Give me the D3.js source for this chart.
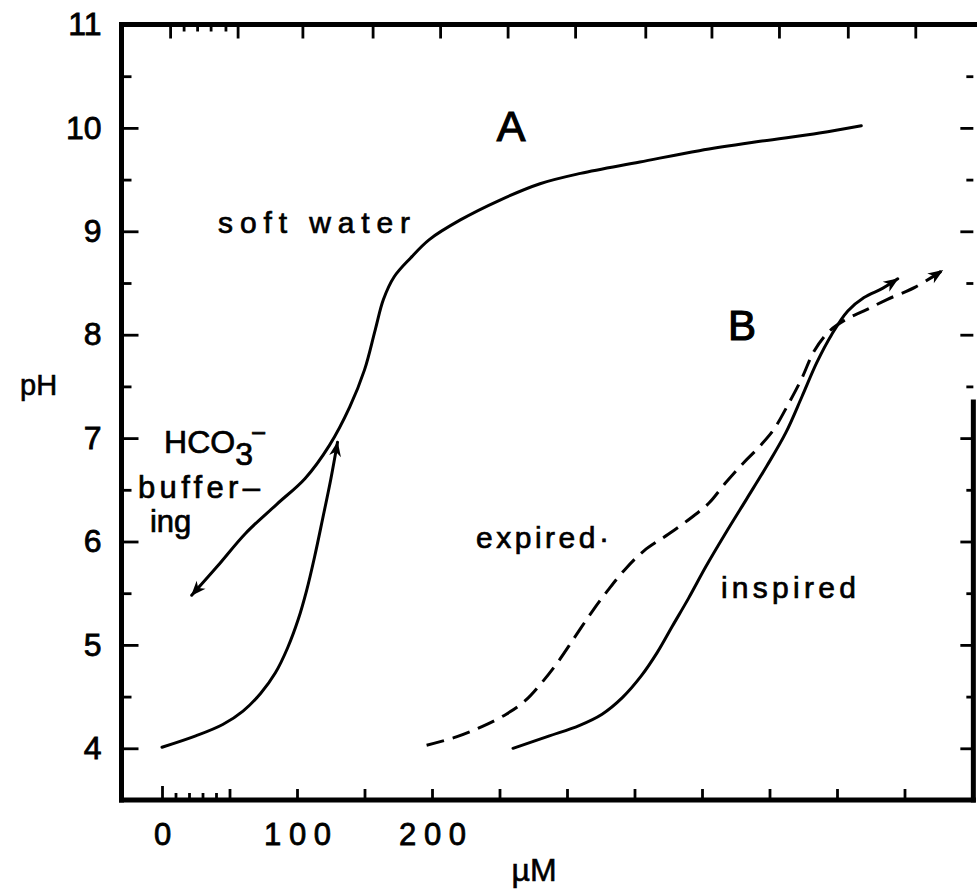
<!DOCTYPE html>
<html><head><meta charset="utf-8">
<script src="https://cdn.jsdelivr.net/npm/d3@7"></script>
<style>body{margin:0;background:#fff}</style>
</head><body>
<svg id="chart" width="977" height="894"></svg>
<script>
// ---- data (x in µM, y in pH) ----
const softWaterRise = [[0,4.01],[25,4.12],[45,4.23],[60,4.36],[73,4.53],[84,4.73],[93,4.97],[101,5.25],[107,5.52],[113,5.85],[119,6.22],[125,6.6],[130,6.96]];
const softWaterMain = [[22,5.48],[41,5.76],[62,6.08],[85,6.36],[106,6.61],[124,6.93],[139,7.30],[150,7.66],[158,8.05],[164,8.34],[172,8.56],[184,8.74],[198,8.92],[221,9.11],[250,9.30],[280,9.46],[310,9.56],[354,9.67],[398,9.78],[443,9.87],[487,9.95],[518,10.02]];
const inspired = [[260,4.0],[287,4.12],[309,4.22],[326,4.33],[341,4.49],[355,4.70],[367,4.93],[378,5.18],[390,5.45],[403,5.76],[417,6.07],[433,6.41],[448,6.73],[462,7.05],[474,7.40],[485,7.73],[496,8.00],[508,8.23],[520,8.36],[534,8.45],[545,8.54]];
const expired = [[196,4.03],[218,4.11],[237,4.21],[255,4.33],[269,4.46],[281,4.63],[293,4.83],[306,5.08],[319,5.33],[331,5.54],[343,5.73],[357,5.91],[375,6.07],[392,6.23],[405,6.37],[417,6.56],[430,6.75],[442,6.91],[453,7.08],[464,7.33],[474,7.58],[483,7.84],[494,8.03],[507,8.15],[520,8.23],[537,8.34],[558,8.46],[578,8.62]];

const yTickValues = [4,5,6,7,8,9,10,11];
const yMinorValues = [4.5,5.5,6.5,7.5,8.5,9.5,10.5];
const xLabelValues = [0,100,200];
const xMajorTicks = [0,50,100,150,200,250,300,350,400,450,500,550];
const xMinorTicks = [10,20,30,40];
const topMajorTicks = [6,56,104,156,206,256,306,358,407,457,508,558];
const topMinorTicks = [16,26,36,47];

// ---- setup ----
const FONT = "'Liberation Sans', Arial, Helvetica, sans-serif";
const svg = d3.select("#chart").attr("font-family", FONT);
const x = d3.scaleLinear().domain([-30, 601]).range([121.5, 973.35]);
const y = d3.scaleLinear().domain([3.5, 11]).range([800, 24.5]);

function styleAxis(g){
  g.select(".domain").remove();
  g.selectAll(".tick line").attr("stroke","#000").attr("stroke-width",2.8);
  g.attr("font-family", FONT);
}
function heavy(sel, w){ sel.attr("stroke","#000").attr("stroke-width",w).attr("fill","#000"); }

// left ticks (inward)
svg.append("g").attr("transform",`translate(${x(-30)},0)`)
  .call(d3.axisRight(y).tickValues(yTickValues).tickSize(17).tickFormat("")).call(styleAxis);
svg.append("g").attr("transform",`translate(${x(-30)},0)`)
  .call(d3.axisRight(y).tickValues(yMinorValues).tickSize(10).tickFormat("")).call(styleAxis);
// left labels
const yl = svg.append("g").attr("transform",`translate(${x(-30)},0)`)
  .call(d3.axisLeft(y).tickValues(yTickValues).tickSize(0).tickPadding(20).tickFormat(d3.format("d")))
  .call(styleAxis);
yl.attr("font-size",32);
yl.selectAll("text").call(heavy, 0.8);

// right ticks (inward)
svg.append("g").attr("transform",`translate(${x(601)},0)`)
  .call(d3.axisLeft(y).tickValues(yTickValues.filter(d=>d<11)).tickSize(13).tickFormat("")).call(styleAxis);
svg.append("g").attr("transform",`translate(${x(601)},0)`)
  .call(d3.axisLeft(y).tickValues(yMinorValues).tickSize(7).tickFormat("")).call(styleAxis);

// top ticks (inward)
svg.append("g").attr("transform",`translate(0,${y(11)})`)
  .call(d3.axisBottom(x).tickValues(topMajorTicks).tickSize(14).tickFormat("")).call(styleAxis);
svg.append("g").attr("transform",`translate(0,${y(11)})`)
  .call(d3.axisBottom(x).tickValues(topMinorTicks).tickSize(7).tickFormat("")).call(styleAxis);

// bottom ticks (inward)
svg.append("g").attr("transform",`translate(0,${y(3.5)})`)
  .call(d3.axisTop(x).tickValues(xMajorTicks).tickSize(11).tickFormat("")).call(styleAxis)
  .selectAll(".tick line").attr("y2", d => d===0 ? -14 : -11);
svg.append("g").attr("transform",`translate(0,${y(3.5)})`)
  .call(d3.axisTop(x).tickValues(xMinorTicks).tickSize(7).tickFormat("")).call(styleAxis);
// bottom labels
const xl = svg.append("g").attr("transform",`translate(0,${y(3.5)})`)
  .call(d3.axisBottom(x).tickValues(xLabelValues).tickSize(0).tickPadding(23).tickFormat(d3.format("d")))
  .call(styleAxis);
xl.attr("font-size",31);
xl.selectAll("text").call(heavy, 0.8)
  .each(function(d){ if (String(d).length>1) d3.select(this).attr("textLength",67).attr("lengthAdjust","spacing"); });

// frame
const frame = svg.append("g").attr("stroke","#000").attr("stroke-width",5).attr("stroke-linecap","square");
frame.append("line").attr("x1",x(-30)).attr("x2",977).attr("y1",y(11)).attr("y2",y(11));
frame.append("line").attr("x1",x(-30)).attr("x2",x(-30)).attr("y1",y(11)).attr("y2",y(3.5));
frame.append("line").attr("x1",x(-30)).attr("x2",x(601)).attr("y1",y(3.5)).attr("y2",y(3.5));
frame.append("line").attr("x1",x(601)).attr("x2",x(601)).attr("y1",y(7.35)).attr("y2",y(3.5));

// arrow marker
const defs = svg.append("defs");
defs.append("marker").attr("id","arr").attr("viewBox","0 -6 14 12")
  .attr("refX",13).attr("refY",0).attr("markerUnits","userSpaceOnUse")
  .attr("markerWidth",20).attr("markerHeight",13).attr("orient","auto-start-reverse")
  .append("path").attr("d","M0,-5.5 L14,0 L0,5.5 L4,0 Z").attr("fill","#000");

const line = d3.line().x(d=>x(d[0])).y(d=>y(d[1])).curve(d3.curveCatmullRom.alpha(0.5));
const curves = svg.append("g").attr("fill","none").attr("stroke","#000").attr("stroke-width",3)
  .attr("stroke-linecap","round").attr("stroke-linejoin","round");
curves.append("path").attr("d",line(softWaterRise)).attr("marker-end","url(#arr)");
curves.append("path").attr("d",line(softWaterMain)).attr("marker-start","url(#arr)");
curves.append("path").attr("d",line(inspired)).attr("marker-end","url(#arr)");
curves.append("path").attr("d",line(expired)).attr("stroke-dasharray","18,9").attr("stroke-linecap","butt").attr("marker-end","url(#arr)");

// annotations
const ann = svg.append("g").attr("fill","#000");
ann.append("text").attr("x",x(258.5)).attr("y",y(9.87)).attr("text-anchor","middle").attr("font-size",43).text("A").call(heavy,1.2);
ann.append("text").attr("x",x(429.6)).attr("y",y(7.95)).attr("text-anchor","middle").attr("font-size",42).text("B").call(heavy,1.2);
ann.append("text").attr("x",x(41.5)).attr("y",y(8.98)).attr("font-size",30).attr("textLength",192).attr("lengthAdjust","spacing").text("soft water").call(heavy,0.7);
const hco = ann.append("text").attr("x",x(1.5)).attr("y",y(6.86)).attr("font-size",32).call(heavy,0.7);
hco.append("tspan").text("HCO");
hco.append("tspan").attr("dy",12).text("3");
hco.append("tspan").attr("dy",-23).attr("dx",-2).attr("font-size",26).text("\u2212");
ann.append("text").attr("x",x(-17.8)).attr("y",498).attr("font-size",31).attr("textLength",122).attr("lengthAdjust","spacing").text("buffer\u2013").call(heavy,0.7);
ann.append("text").attr("x",x(-8.9)).attr("y",532).attr("font-size",31).text("ing").call(heavy,0.7);
ann.append("text").attr("x",x(232.6)).attr("y",y(5.94)).attr("font-size",30).attr("textLength",133).attr("lengthAdjust","spacing").text("expired\u00b7").call(heavy,0.7);
ann.append("text").attr("x",x(414)).attr("y",y(5.45)).attr("font-size",30).attr("textLength",135).attr("lengthAdjust","spacing").text("inspired").call(heavy,0.7);
ann.append("text").attr("x",20).attr("y",395).attr("font-size",29).text("pH").call(heavy,0.6);
ann.append("text").attr("x",534).attr("y",881).attr("text-anchor","middle").attr("font-size",32).text("\u00b5M").call(heavy,0.6);
</script>
</body></html>
